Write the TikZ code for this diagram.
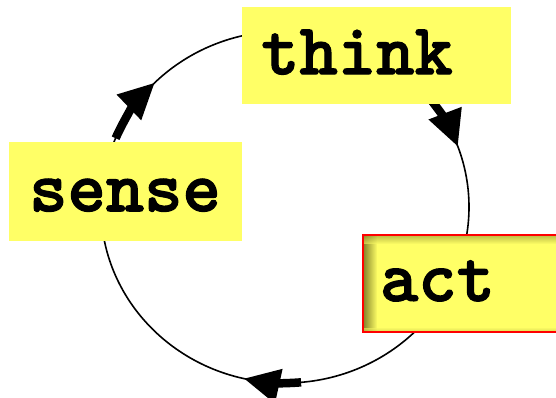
\documentclass[tikz,border=0pt]{standalone}
\usepackage{fontspec}
\newfontfamily\stagefont{lmmonolt10-bold.otf}[FakeBold=1.5]
\usetikzlibrary{arrows.meta}

\definecolor{notepad}{RGB}{255,255,102}
\definecolor{notedark}{RGB}{130,130,40}

\tikzset{
  stage/.style={
    rectangle, fill=notepad, anchor=north west,
    inner xsep=17pt, inner ysep=0pt, align=left,
    font=\stagefont\fontsize{73}{73}\selectfont
  },
  ring/.style={line width=1.6pt, black},
  flow/.style={line width=8.5pt, black, line cap=butt,
    -{Triangle[length=36pt, width=33pt]}}
}

\begin{document}
\begin{tikzpicture}[x=1pt, y=1pt]
  \useasboundingbox (0,0) rectangle (556,397);

  % the cycle
  \coordinate (hub) at (285,190);
  \draw[ring] (hub) ellipse[x radius=184pt, y radius=176pt];

  % direction markers along the ring
  \draw[flow] ([shift={(157:184pt and 176pt)}]hub)
    arc[start angle=157, end angle=135, x radius=184pt, y radius=176pt];
  \draw[flow] ([shift={(38:184pt and 176pt)}]hub)
    arc[start angle=38, end angle=20, x radius=184pt, y radius=176pt];
  \draw[flow] ([shift={(-85:184pt and 176pt)}]hub)
    arc[start angle=-85, end angle=-103, x radius=184pt, y radius=176pt];

  % stages
  \node[stage, inner xsep=19pt, minimum width=269pt, minimum height=97pt,
        text width=231pt, text height=67pt, text depth=30pt]
        (think) at (242,390) {think};
  \node[stage, inner xsep=20pt, minimum width=233pt, minimum height=99pt,
        text width=193pt, text height=69pt, text depth=30pt]
        (sense) at (9,255) {sense};
  \node[stage, draw=red, line width=2pt,
        minimum width=200pt, minimum height=97pt,
        text width=166pt, text height=66pt, text depth=31pt,
        path picture={
          % inner shadow along the left and top edges
          \foreach \i in {0,...,13} {
            \fill[notedark!\the\numexpr 100-\i*7\relax!notepad]
              ([xshift=\i pt]path picture bounding box.north west) rectangle
              ([xshift=\i pt+1pt]path picture bounding box.south west);
          }
          \foreach \i in {0,...,8} {
            \fill[notedark!\the\numexpr 90-\i*10\relax!notepad, opacity=0.6]
              ([yshift=-\i pt]path picture bounding box.north west) rectangle
              ([yshift=-\i pt-1pt]path picture bounding box.north east);
          }
          \foreach \i in {0,...,3} {
            \fill[notedark!\the\numexpr 40-\i*10\relax!notepad, opacity=0.6]
              ([yshift=\i pt]path picture bounding box.south west) rectangle
              ([yshift=\i pt+1pt]path picture bounding box.south east);
          }
        }]
        (act) at (362,163) {act};
\end{tikzpicture}
\end{document}
